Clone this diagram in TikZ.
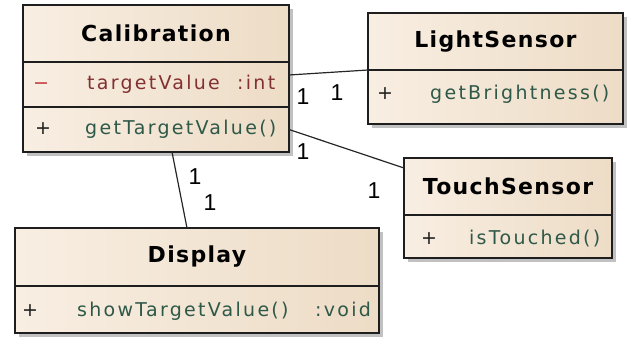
\documentclass[tikz,border=0pt]{standalone}
\usepackage{fontspec}
\setmainfont{DejaVu Sans}
\newfontfamily\umlfont[LetterSpace=12]{DejaVu Sans}
\newfontfamily\umltitlefont[LetterSpace=6]{DejaVu Sans}
\newfontfamily\multfont{Liberation Sans}
\usetikzlibrary{positioning,shadows}

\definecolor{boxleft}{HTML}{F8EEE2}
\definecolor{boxright}{HTML}{EDDCC6}
\definecolor{boxline}{HTML}{1E1E1E}
\definecolor{attrcol}{HTML}{823030}
\definecolor{minuscol}{HTML}{C23A3A}
\definecolor{opcol}{HTML}{2E5848}

\tikzset{
  classbox/.style={draw=boxline, line width=1.3pt, inner sep=0pt, outer sep=0pt,
    left color=boxleft, right color=boxright,
    drop shadow={shadow xshift=4pt, shadow yshift=-4pt, fill=black!35, opacity=.7}},
  classname/.style={classbox, anchor=north west, font=\umltitlefont\bfseries\fontsize{22}{26}\selectfont},
  classrow/.style={classbox},
  member/.style={anchor=base west, inner sep=0pt, font=\umlfont\fontsize{19}{22}\selectfont},
  vis/.style={member, text=boxline},
  mult/.style={inner sep=0pt, font=\multfont\fontsize{23}{27}\selectfont},
  assoc/.style={draw=black!85, line width=1.2pt}
}

\begin{document}
\begin{tikzpicture}[x=1pt, y=-1pt, node distance=0pt]
  \useasboundingbox (0,0) rectangle (641,339);

  \node[classname, minimum width=266pt, minimum height=57pt] (calib) at (23,5) {Calibration};
  \node[classrow, minimum width=266pt, minimum height=45pt, below=of calib] (calibattr) {};
  \node[classrow, minimum width=266pt, minimum height=45pt, below=of calibattr] (calibops) {};
  \node[vis, text=minuscol] (calibvisa) at (33,90) {−};
  \node[member, text=attrcol] (calibattrname) at (87,90) {targetValue};
  \node[member, text=attrcol] (calibattrtype) at (237,90) {:int};
  \node[vis] (calibviso) at (35,135) {+};
  \node[member, text=opcol] (calibopname) at (85,135) {getTargetValue()};

  \node[classname, minimum width=255pt, minimum height=57pt] (light) at (368,13) {LightSensor};
  \node[classrow, minimum width=255pt, minimum height=54pt, below=of light] (lightops) {};
  \node[vis] (lightviso) at (377,100) {+};
  \node[member, text=opcol] (lightopname) at (430,100) {getBrightness()};

  \node[classname, minimum width=208pt, minimum height=57pt] (touch) at (404,158) {TouchSensor};
  \node[classrow, minimum width=208pt, minimum height=43pt, below=of touch] (touchops) {};
  \node[vis] (touchviso) at (421,245) {+};
  \node[member, text=opcol] (touchopname) at (469,245) {isTouched()};

  \node[classname, minimum width=364pt, minimum height=58pt] (disp) at (15,228) {Display};
  \node[classrow, minimum width=364pt, minimum height=47pt, below=of disp] (dispops) {};
  \node[vis] (dispviso) at (22,317) {+};
  \node[member, text=opcol] (dispopname) at (77,317) {showTargetValue()};
  \node[member, text=opcol] (dispoptype) at (315,317) {:void};

  \draw[assoc] ([yshift=9.5pt]calibattr.east) -- (lightops.north west);
  \draw[assoc] (calibops.east) -- ([yshift=-10pt]touch.north west);
  \draw[assoc] ([xshift=16pt]calibops.south) -- ([xshift=-10pt]disp.north);

  \node[mult] (mcl) at (303,97) {1};
  \node[mult] (mlc) at (337,93) {1};
  \node[mult] (mct) at (303,152) {1};
  \node[mult] (mtc) at (374,191) {1};
  \node[mult] (mcd) at (195,177) {1};
  \node[mult] (mdc) at (210,203) {1};
\end{tikzpicture}
\end{document}
